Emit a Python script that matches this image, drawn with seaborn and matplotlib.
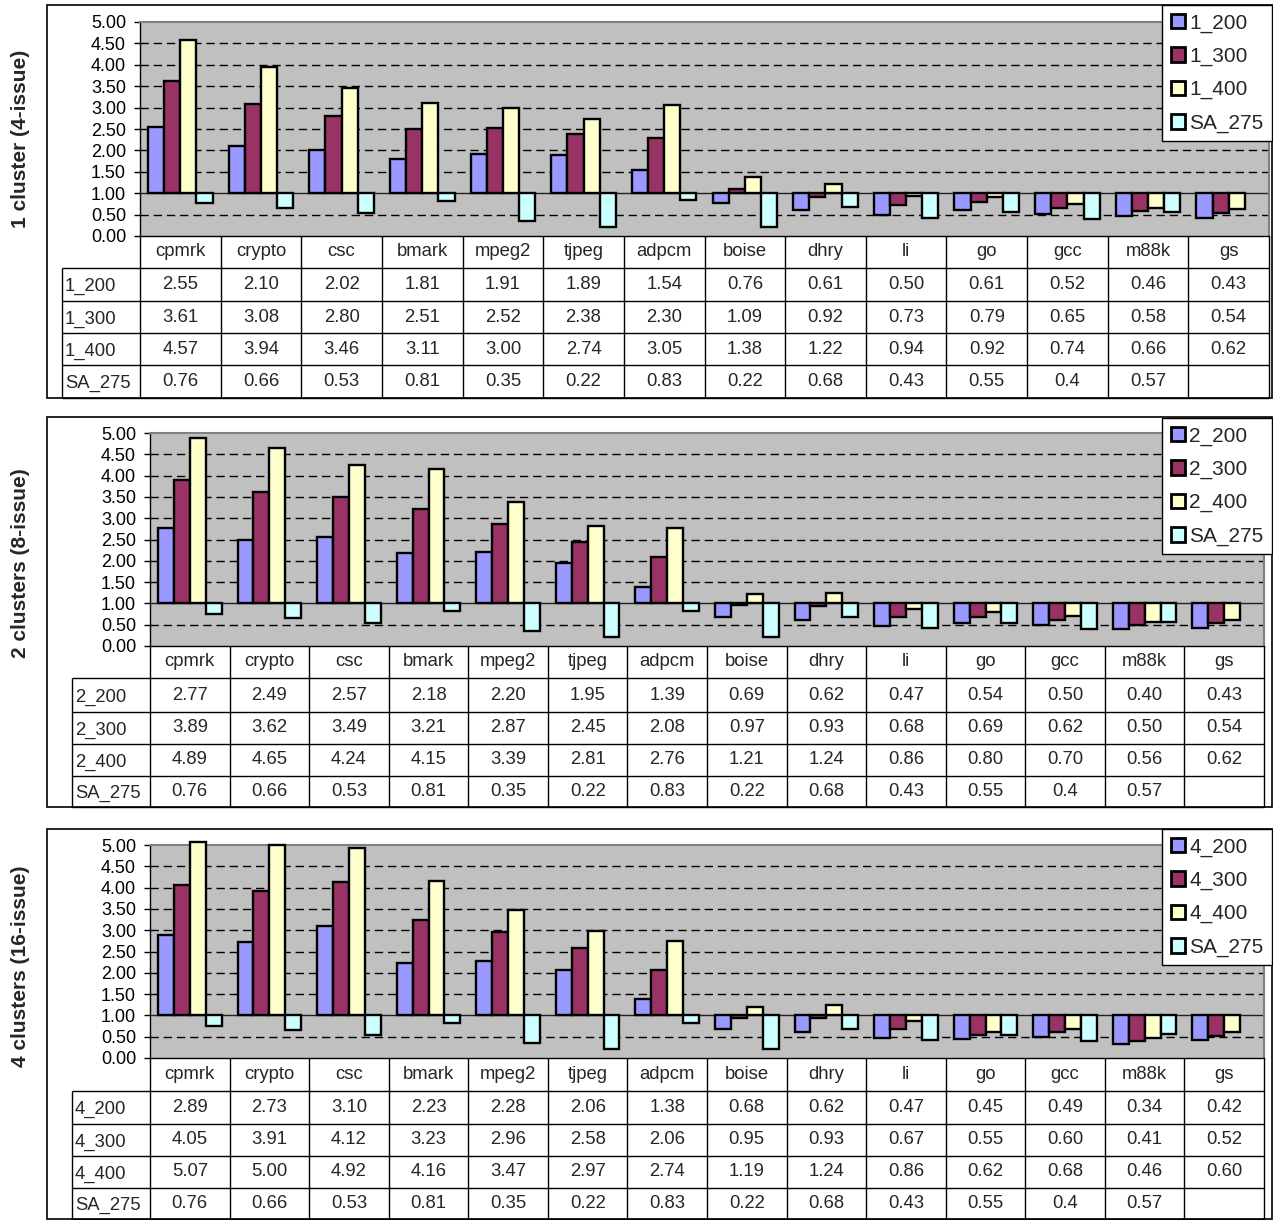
import numpy as np
import pandas as pd
import matplotlib
matplotlib.use("Agg")
import matplotlib.pyplot as plt
from matplotlib.patches import Patch, Rectangle
import seaborn as sns

# ---------------- data ----------------
benchmarks = ["cpmrk", "crypto", "csc", "bmark", "mpeg2", "tjpeg", "adpcm",
              "boise", "dhry", "li", "go", "gcc", "m88k", "gs"]

c1_200 = [2.55, 2.10, 2.02, 1.81, 1.91, 1.89, 1.54, 0.76, 0.61, 0.50, 0.61, 0.52, 0.46, 0.43]
c1_300 = [3.61, 3.08, 2.80, 2.51, 2.52, 2.38, 2.30, 1.09, 0.92, 0.73, 0.79, 0.65, 0.58, 0.54]
c1_400 = [4.57, 3.94, 3.46, 3.11, 3.00, 2.74, 3.05, 1.38, 1.22, 0.94, 0.92, 0.74, 0.66, 0.62]

c2_200 = [2.77, 2.49, 2.57, 2.18, 2.20, 1.95, 1.39, 0.69, 0.62, 0.47, 0.54, 0.50, 0.40, 0.43]
c2_300 = [3.89, 3.62, 3.49, 3.21, 2.87, 2.45, 2.08, 0.97, 0.93, 0.68, 0.69, 0.62, 0.50, 0.54]
c2_400 = [4.89, 4.65, 4.24, 4.15, 3.39, 2.81, 2.76, 1.21, 1.24, 0.86, 0.80, 0.70, 0.56, 0.62]

c4_200 = [2.89, 2.73, 3.10, 2.23, 2.28, 2.06, 1.38, 0.68, 0.62, 0.47, 0.45, 0.49, 0.34, 0.42]
c4_300 = [4.05, 3.91, 4.12, 3.23, 2.96, 2.58, 2.06, 0.95, 0.93, 0.67, 0.55, 0.60, 0.41, 0.52]
c4_400 = [5.07, 5.00, 4.92, 4.16, 3.47, 2.97, 2.74, 1.19, 1.24, 0.86, 0.62, 0.68, 0.46, 0.60]

sa_275 = [0.76, 0.66, 0.53, 0.81, 0.35, 0.22, 0.83, 0.22, 0.68, 0.43, 0.55, 0.4, 0.57, np.nan]

panel_titles = ["1 cluster (4-issue)", "2 clusters (8-issue)", "4 clusters (16-issue)"]
panel_series = [
    (["1_200", "1_300", "1_400", "SA_275"], [c1_200, c1_300, c1_400, sa_275]),
    (["2_200", "2_300", "2_400", "SA_275"], [c2_200, c2_300, c2_400, sa_275]),
    (["4_200", "4_300", "4_400", "SA_275"], [c4_200, c4_300, c4_400, sa_275]),
]
yticks = [0.0, 0.5, 1.0, 1.5, 2.0, 2.5, 3.0, 3.5, 4.0, 4.5, 5.0]
baseline = 1.0

colors = ["#9999FF", "#993366", "#FFFFCC", "#CCFFFF"]

# ---------------- layout (pixels) ----------------
W, H = 1273, 1220
layouts = [
    dict(box=(47, 5, 1272, 398), plot=(140, 22, 1269, 236), label_left=62,
         rows=[236, 268, 301, 333, 365, 398], legend=(1272, 5), ylab=(21, 139)),
    dict(box=(47, 417, 1272, 807), plot=(150, 433, 1264, 646), label_left=72,
         rows=[646, 678, 712, 744, 776, 807], legend=(1272, 418), ylab=(21, 563)),
    dict(box=(47, 829, 1272, 1219), plot=(150, 845, 1264, 1058), label_left=72,
         rows=[1058, 1091, 1124, 1156, 1188, 1219], legend=(1272, 829), ylab=(21, 966)),
]

sns.set_theme(style="white")
plt.rcParams["font.family"] = ["Liberation Sans", "DejaVu Sans"]

fig = plt.figure(figsize=(W / 100, H / 100), dpi=100)
fig.patch.set_facecolor("white")

ov = fig.add_axes([0, 0, 1, 1], zorder=0)
ov.set_xlim(0, W)
ov.set_ylim(H, 0)
ov.axis("off")


def rect(x0, y0, x1, y1):
    return [x0 / W, 1 - y1 / H, (x1 - x0) / W, (y1 - y0) / H]


for title, (names, series), lay in zip(panel_titles, panel_series, layouts):
    px0, py0, px1, py1 = lay["plot"]
    ax = fig.add_axes(rect(px0, py0, px1, py1), zorder=2)
    ax.set_facecolor("#C0C0C0")

    rows = []
    for name, vals in zip(names, series):
        for b, v in zip(benchmarks, vals):
            rows.append({"bench": b, "series": name, "value": v})
    df = pd.DataFrame(rows).dropna()
    df["delta"] = df["value"] - baseline

    pal = dict(zip(names, colors))
    sns.barplot(data=df, x="bench", y="delta", hue="series", order=benchmarks,
                hue_order=names, palette=pal, saturation=1, width=0.8,
                bottom=baseline, edgecolor="black", linewidth=1.7,
                clip_on=False, legend=False, ax=ax, zorder=3)

    ax.set_xlim(-0.5, len(benchmarks) - 0.5)
    ax.set_ylim(0, 5)
    ax.set_yticks(yticks)
    ax.set_yticklabels([f"{t:.2f}" for t in yticks])
    ax.set_xticks([])
    ax.set_xlabel("")
    ax.set_ylabel("")
    ax.tick_params(axis="y", left=True, length=4.5, width=1, color="black",
                   labelsize=13, pad=5.5, labelcolor="black")
    for t in yticks:
        if t not in (0.0, 5.0, baseline):
            ax.axhline(t, color="black", lw=1.0, ls=(0, (6, 3.5)), zorder=1)
    ax.axhline(baseline, color="#202020", lw=1.0, zorder=2)
    ax.spines["left"].set_color("black")
    ax.spines["left"].set_linewidth(1)
    ax.spines["bottom"].set_color("black")
    ax.spines["bottom"].set_linewidth(1)
    for s in ("top", "right"):
        ax.spines[s].set_color("#808080")
        ax.spines[s].set_linewidth(1.5)

    # panel frame
    bx0, by0, bx1, by1 = lay["box"]
    ov.add_patch(Rectangle((bx0, by0), bx1 - bx0, by1 - by0, fill=False,
                           edgecolor="black", lw=1.2))

    # y label
    ov.text(lay["ylab"][0], lay["ylab"][1], title, rotation=90, ha="center",
            va="center", fontsize=15, fontweight="bold")

    # data table
    L = lay["label_left"]
    r = lay["rows"]
    cw = (px1 - px0) / len(benchmarks)
    lc = "black"
    ov.vlines(L, r[1], r[-1], color=lc, lw=1)
    for k in range(len(benchmarks) + 1):
        ov.vlines(px0 + k * cw, r[0], r[-1], color=lc, lw=1)
    for yy in r[1:]:
        ov.hlines(yy, L, px1, color=lc, lw=1)
    for i, b in enumerate(benchmarks):
        ov.text(px0 + (i + 0.5) * cw, (r[0] + r[1]) / 2, b, ha="center",
                va="center", fontsize=13.3)
    for j, (name, vals) in enumerate(zip(names, series)):
        yc = (r[j + 1] + r[j + 2]) / 2
        ov.text(L + 3, yc + 2, name, ha="left", va="center", fontsize=13.3)
        for i, v in enumerate(vals):
            if np.isnan(v):
                continue
            txt = f"{v:g}" if name == "SA_275" else f"{v:.2f}"
            ov.text(px0 + (i + 0.5) * cw, yc, txt, ha="center", va="center",
                    fontsize=13.3)

    # legend
    handles = [Patch(facecolor=c, edgecolor="black", linewidth=2) for c in colors]
    lx, ly = lay["legend"]
    leg = fig.legend(handles, names, loc="upper right",
                     bbox_to_anchor=(lx / W, 1 - ly / H), frameon=True,
                     fancybox=False, edgecolor="black", framealpha=1,
                     borderaxespad=0, fontsize=15, handlelength=0.7,
                     handleheight=0.7, handletextpad=0.2, labelspacing=0.68,
                     borderpad=0.4)
    leg.get_frame().set_linewidth(1)
    leg.set_zorder(10)

fig.savefig("out.png", dpi=100)
